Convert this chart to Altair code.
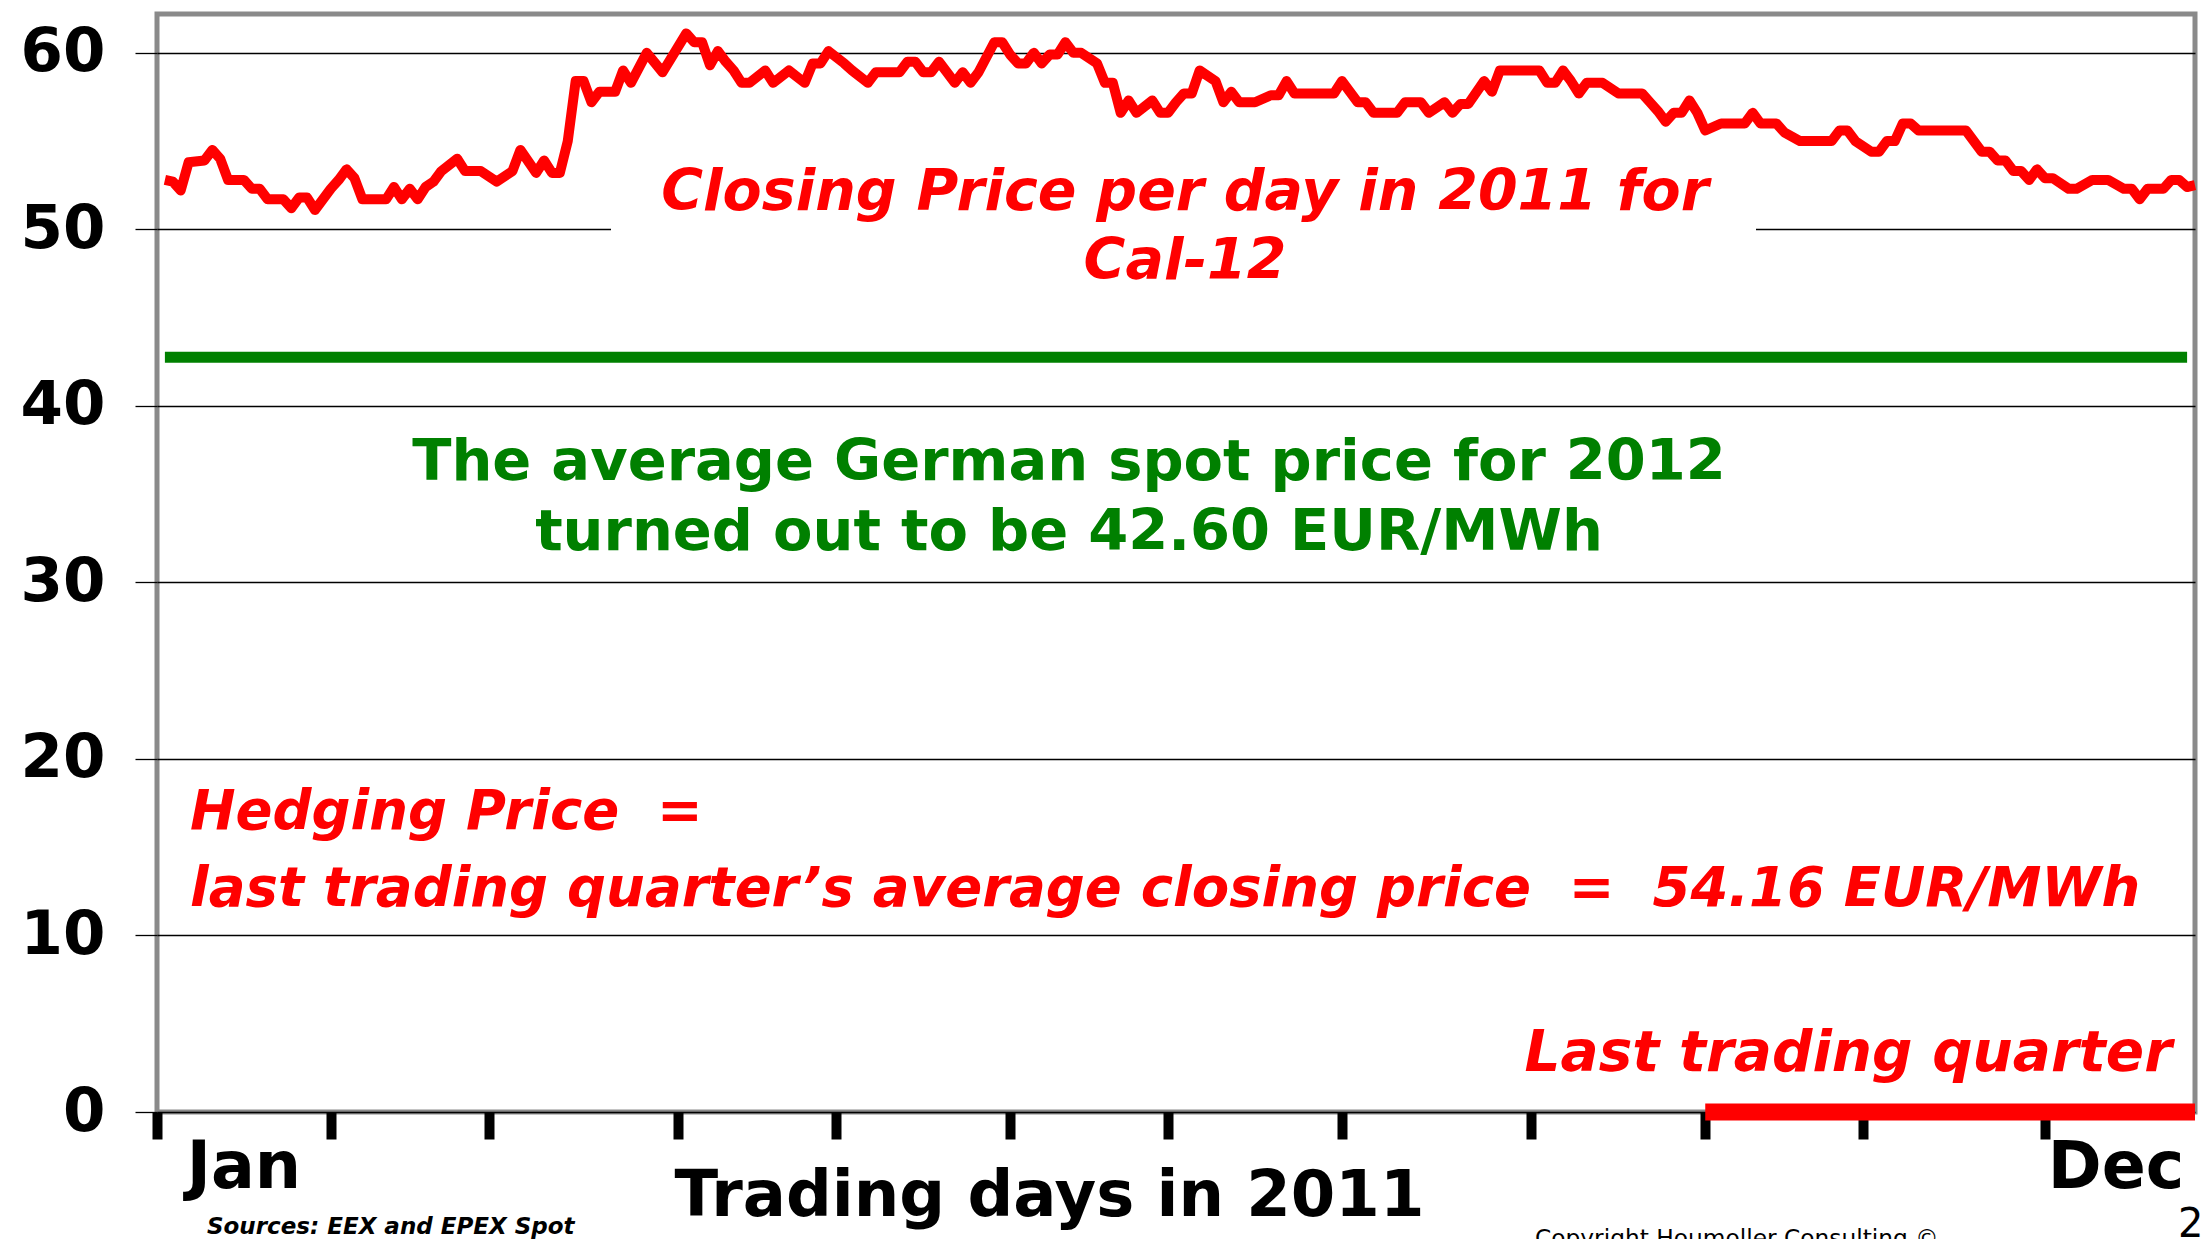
import altair as alt
import pandas as pd

# ---- data ----
days = [1, 2, 3, 4, 6, 7, 8, 9, 11, 12, 13, 14, 16, 17, 18, 19, 20, 22, 23, 24, 25, 26, 29, 30, 31, 32, 33, 34, 35, 36, 38, 39, 41,
        43, 44, 45, 46, 48, 49, 50, 51, 52, 53, 54, 55, 56, 58, 59, 60, 62, 64, 67, 68, 69, 70, 71, 72, 73, 74, 75, 77, 78, 80, 82, 83, 84, 85,
        87, 88, 90, 91, 94, 95, 96, 97, 98, 99, 101, 102, 103, 104, 106, 107, 108, 109, 110, 111, 112, 113, 114, 115, 116, 117, 119, 120, 121,
        122, 123, 124, 126, 127, 128, 129, 130, 131, 132, 134, 135, 136, 137, 139, 141, 142, 143, 144, 149, 150, 152, 153, 154, 157, 158, 160,
        161, 163, 164, 165, 166, 168, 169, 170, 175, 176, 177, 178, 179, 180, 181, 183, 185, 188, 189, 190, 191, 192, 193, 194, 195, 196, 198,
        201, 202, 203, 205, 206, 208, 212, 213, 214, 215, 217, 218, 219, 220, 221, 222, 223, 229, 231, 232, 233, 234, 235, 236, 237, 238, 239,
        240, 242, 243, 245, 247, 249, 250, 251, 252, 254, 255, 256, 257, 258]
prices = [52.8, 52.7, 52.2, 53.8, 53.9, 54.5, 54.0, 52.8, 52.8, 52.3, 52.3, 51.7, 51.7, 51.2, 51.8, 51.8, 51.1, 52.3, 52.8, 53.4, 52.9, 51.7, 51.7, 52.4, 51.7, 52.3, 51.7, 52.4, 52.7, 53.3, 54.0, 53.3, 53.3,
          52.7, 53.0, 53.3, 54.5, 53.2, 53.9, 53.2, 53.2, 55.0, 58.4, 58.4, 57.2, 57.8, 57.8, 59.0, 58.3, 60.0, 58.9, 61.1, 60.6, 60.6, 59.3, 60.1, 59.5, 59.0, 58.3, 58.3, 59.0, 58.3, 59.0, 58.3, 59.4, 59.4, 60.1,
          59.4, 59.0, 58.3, 58.9, 58.9, 59.5, 59.5, 58.9, 58.9, 59.5, 58.3, 58.9, 58.3, 58.9, 60.6, 60.6, 59.9, 59.4, 59.4, 60.0, 59.4, 59.9, 59.9, 60.6, 60.0, 60.0, 59.4, 58.3, 58.3,
          56.6, 57.3, 56.6, 57.3, 56.6, 56.6, 57.2, 57.7, 57.7, 59.0, 58.4, 57.2, 57.8, 57.2, 57.2, 57.6, 57.6, 58.4, 57.7, 57.7, 58.4, 57.2, 57.2, 56.6, 56.6, 57.2, 57.2,
          56.6, 57.2, 56.6, 57.1, 57.1, 58.4, 57.8, 59.0, 59.0, 58.3, 58.3, 59.0, 58.4, 57.7, 58.3, 58.3, 57.7, 57.7, 57.2, 56.7, 56.1, 56.6, 56.6, 57.3, 56.6, 55.6, 56.0,
          56.0, 56.6, 56.0, 56.0, 55.5, 55.0, 55.0, 55.6, 55.6, 55.0, 54.4, 54.4, 55.0, 55.0, 56.0, 56.0, 55.6, 55.6, 54.4, 54.4, 53.9, 53.9, 53.3, 53.3, 52.8, 53.4, 52.9,
          52.9, 52.3, 52.3, 52.8, 52.8, 52.3, 52.3, 51.7, 52.3, 52.3, 52.8, 52.8, 52.4, 52.5]

month_ticks = [0, 22, 42, 66, 86, 108, 128, 150, 174, 196, 216, 239]
month_labels = ["Jan", "Dec"]
month_label_days = [11, 248]
y_ticks = [0, 10, 20, 30, 40, 50, 60]

spot_avg = 42.75
spot_days = [1, 257]
quarter_days = [196, 258]

FONT = "DejaVu Sans"
RED = "#ff0000"
GREEN = "#008000"

x_scale = alt.Scale(domain=[0, 258], nice=False, zero=False)
y_scale = alt.Scale(domain=[0, 62.2], nice=False, zero=True)

line_df = pd.DataFrame({"day": days, "price": prices})

line = alt.Chart(line_df).mark_line(color=RED, strokeWidth=10, strokeJoin="round").encode(
    x=alt.X("day:Q", scale=x_scale, axis=alt.Axis(
        values=month_ticks, labels=False, ticks=True, tickSize=27, tickWidth=10, tickColor="black",
        domain=False, grid=False, title="Trading days in 2011", titleFontSize=64, titleFont=FONT,
        titleFontWeight="bold", titleColor="black", titleX=892, titleY=84, titleBaseline="middle",
        titleAlign="center")),
    y=alt.Y("price:Q", scale=y_scale, axis=alt.Axis(
        values=y_ticks, grid=True, gridColor="black", gridWidth=1.3, tickSize=22, tickColor="black",
        tickWidth=1.3, domain=False, labelFontSize=61, labelFont=FONT, labelFontWeight="bold",
        labelColor="black", labelPadding=30, title=None)),
)

box = alt.Chart(pd.DataFrame({"a": [0]})).mark_rect(color="white").encode(
    x=alt.value(454), x2=alt.value(1599), y=alt.value(130), y2=alt.value(300))

spot = alt.Chart(pd.DataFrame({"x": [spot_days[0]], "x2": [spot_days[1]], "y": [spot_avg]})).mark_rule(
    color=GREEN, strokeWidth=11).encode(
    x=alt.X("x:Q", scale=x_scale), x2="x2:Q", y=alt.Y("y:Q", scale=y_scale))

quarter = alt.Chart(pd.DataFrame({"x": [quarter_days[0]], "x2": [quarter_days[1]], "y": [0]})).mark_rule(
    color=RED, strokeWidth=17).encode(
    x=alt.X("x:Q", scale=x_scale), x2="x2:Q", y=alt.Y("y:Q", scale=y_scale))

month_df = pd.DataFrame({"d": month_label_days, "m": month_labels})
months = alt.Chart(month_df).mark_text(font=FONT, fontSize=65, fontWeight="bold", color="black",
                                        baseline="middle", align="center").encode(
    x=alt.X("d:Q", scale=x_scale), y=alt.value(1154), text="m:N")


def label(txt, x, y, size, color, italic=False, bold=True, align="center", baseline="middle"):
    kw = dict(font=FONT, fontSize=size, color=color, align=align, baseline=baseline,
              fontWeight="bold" if bold else "normal")
    if italic:
        kw["fontStyle"] = "italic"
    return alt.Chart(pd.DataFrame({"t": [txt]})).mark_text(**kw).encode(
        x=alt.value(x), y=alt.value(y), text="t:N")


texts = [
    label("Closing Price per day in 2011 for", 1028, 179, 57, RED, italic=True),
    label("Cal-12", 1028, 248, 57, RED, italic=True),
    label("The average German spot price for 2012", 912, 449, 57.5, GREEN),
    label("turned out to be 42.60 EUR/MWh", 912, 519, 57.5, GREEN),
    label("Hedging Price\u00a0 =", 33, 799, 54.5, RED, italic=True, align="left"),
    label("last trading quarter\u2019s average closing price\u00a0 =\u00a0 54.16 EUR/MWh", 33, 876, 54.5, RED,
          italic=True, align="left"),
    label("Last trading quarter", 2015, 1040, 56.5, RED, italic=True, align="right"),
    label("Sources: EEX and EPEX Spot", 50, 1213, 23, "black", italic=True, align="left"),
    label("Copyright Houmoller Consulting \u00a9", 1378, 1232, 23.3, "black", bold=False, align="left",
          baseline="alphabetic"),
    label("20", 2021, 1223, 40, "black", bold=False, align="left", baseline="alphabetic"),
]

chart = alt.layer(box, line, spot, quarter, months, *texts).properties(
    width=2038, height=1098,
    autosize=alt.AutoSizeParams(type="none"),
    padding={"left": 149, "top": 6, "right": 9, "bottom": 127},
    background="white",
).configure_view(stroke="#8a8a8a", strokeWidth=5)

chart.save("out.html", embed_options={"renderer": "svg", "actions": False})
